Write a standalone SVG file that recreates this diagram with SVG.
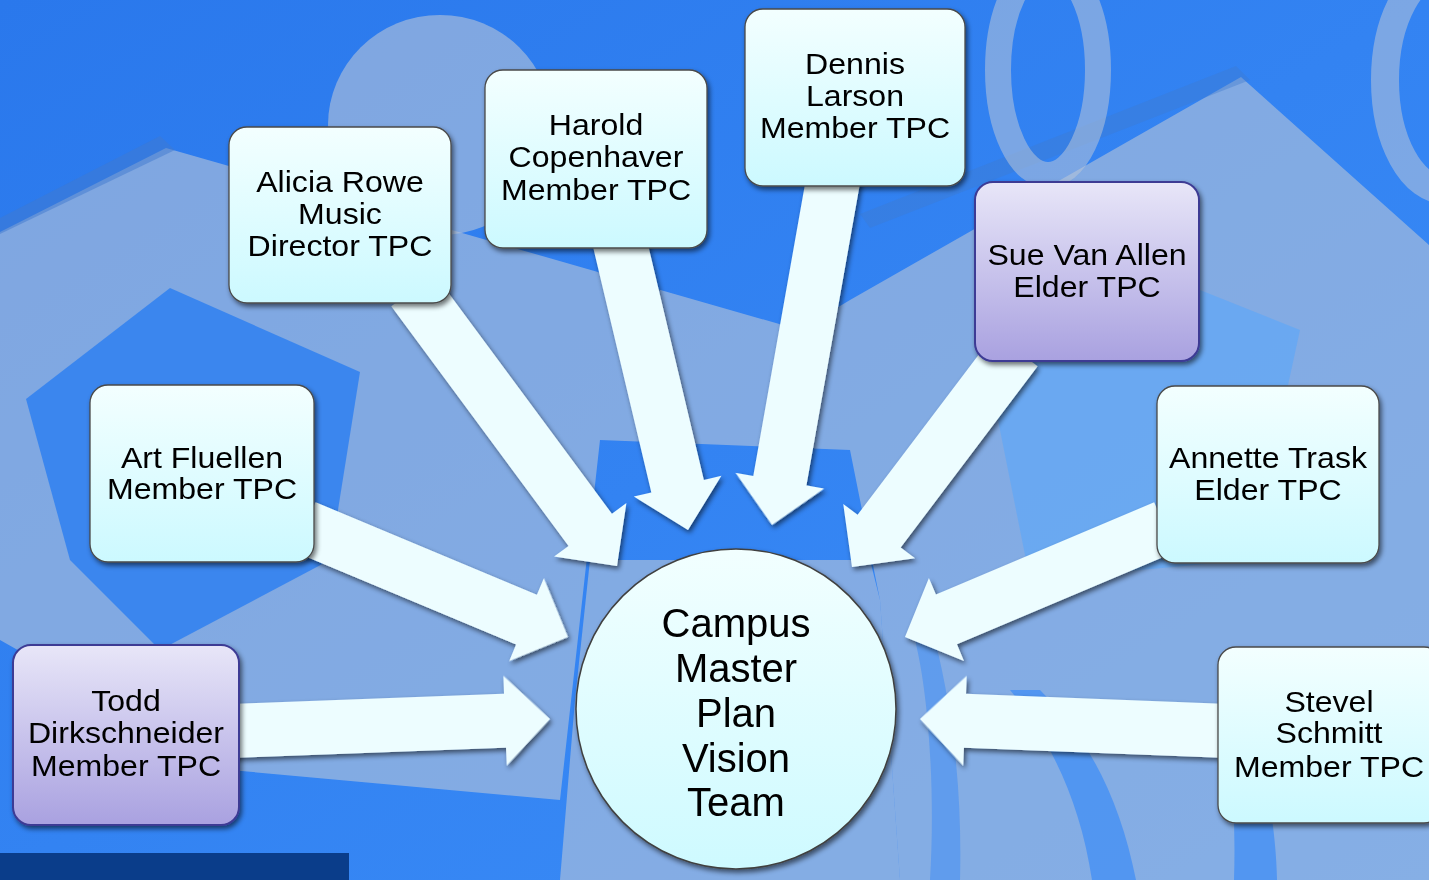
<svg xmlns="http://www.w3.org/2000/svg" width="1429" height="880" viewBox="0 0 1429 880">
<defs>
<linearGradient id="bg" x1="0" y1="0" x2="1" y2="1">
<stop offset="0" stop-color="#2A78EC"/>
<stop offset="1" stop-color="#3C8EF8"/>
</linearGradient>
<linearGradient id="cyan" x1="0" y1="0" x2="0" y2="1">
<stop offset="0" stop-color="#F3FFFF"/>
<stop offset="1" stop-color="#CCF9FF"/>
</linearGradient>
<linearGradient id="purple" x1="0" y1="0" x2="0" y2="1">
<stop offset="0" stop-color="#E8E6F8"/>
<stop offset="1" stop-color="#A9A1E0"/>
</linearGradient>
<linearGradient id="circ" x1="0" y1="0" x2="0" y2="1">
<stop offset="0" stop-color="#F2FFFF"/>
<stop offset="1" stop-color="#CEFAFF"/>
</linearGradient>
<filter id="sh" x="-10%" y="-10%" width="130%" height="130%">
<feGaussianBlur in="SourceAlpha" stdDeviation="2.5"/>
<feOffset dx="2" dy="3"/>
<feComponentTransfer><feFuncA type="linear" slope="0.55"/></feComponentTransfer>
<feMerge><feMergeNode/><feMergeNode in="SourceGraphic"/></feMerge>
</filter>
<style>
.lt{fill:#B8C4D8;fill-opacity:0.6}
.br{fill:#2F80F0;fill-opacity:0.85}
.ring{fill:none;stroke:#B8C4D8;stroke-opacity:0.55}
.arr{fill:#EDFDFF}
.bx{fill:url(#cyan);stroke:#4A4A4A;stroke-width:1.3}
.bp{fill:url(#purple);stroke:#3C3A94;stroke-width:2}
.t{font-family:"Liberation Sans",Arial,sans-serif;font-size:30px;fill:#000;text-anchor:middle}
.ct{font-family:"Liberation Sans",Arial,sans-serif;font-size:40px;fill:#000;text-anchor:middle}
</style>
</defs>

<g id="background">
<rect width="1429" height="880" fill="url(#bg)"/>
<polygon class="lt" points="0,232 166,148 800,330 850,300 850,450 600,440 560,800 230,770 0,640"/>
<polygon class="lt" points="590,560 870,560 880,600 900,880 560,880 575,700"/>
<polygon points="0,218 160,136 175,150 0,234" fill="#3F7AD0" fill-opacity="0.5"/>
<polygon class="br" points="26,399 170,288 360,372 330,560 160,650 70,560"/>
<polygon class="lt" points="850,300 1241,77 1429,245 1429,880 900,880 880,600 850,450"/>
<polygon points="860,214 1236,66 1250,80 870,228" fill="#3F7AD0" fill-opacity="0.4"/>
<polygon points="990,380 1200,290 1300,330 1250,560 1030,580" fill="#5AA6FA" fill-opacity="0.6"/>
<path d="M1092,880 C1080,800 1050,740 1010,690 L1040,690 C1090,740 1120,800 1136,880 Z" fill="#3C8CF6" fill-opacity="0.7"/>
<path d="M1234,880 C1236,820 1232,760 1222,720 L1250,720 C1266,770 1276,830 1277,880 Z" fill="#3C8CF6" fill-opacity="0.7"/>
<path d="M930,880 C935,800 930,700 915,640 L935,640 C955,720 962,800 960,880 Z" fill="#3C8CF6" fill-opacity="0.5"/>
<ellipse class="lt" cx="440" cy="125" rx="112" ry="110"/>
<ellipse class="ring" cx="1048" cy="70" rx="50" ry="105" stroke-width="26"/>
<ellipse class="ring" cx="1445" cy="80" rx="60" ry="110" stroke-width="28"/>
<rect x="0" y="853" width="349" height="27" fill="#0A3D8A"/>
</g>

<g id="connectors" filter="url(#sh)">
<path class="arr" transform="translate(617,566) rotate(53.5)" d="M-343,-27 L-45,-27 L-45,-45 L0,0 L-45,45 L-45,27 L-343,27 Z"/>
<path class="arr" transform="translate(688,530) rotate(76.65)" d="M-303,-27 L-45,-27 L-45,-45 L0,0 L-45,45 L-45,27 L-303,27 Z"/>
<path class="arr" transform="translate(772,525) rotate(100.05)" d="M-356,-27 L-45,-27 L-45,-45 L0,0 L-45,45 L-45,27 L-356,27 Z"/>
<path class="arr" transform="translate(852,567) rotate(127.1)" d="M-272,-27 L-45,-27 L-45,-45 L0,0 L-45,45 L-45,27 L-272,27 Z"/>
<path class="arr" transform="translate(905,637) rotate(157.07)" d="M-282,-27 L-45,-27 L-45,-45 L0,0 L-45,45 L-45,27 L-282,27 Z"/>
<path class="arr" transform="translate(568,637) rotate(22.7)" d="M-285,-27 L-45,-27 L-45,-45 L0,0 L-45,45 L-45,27 L-285,27 Z"/>
<path class="arr" transform="translate(550,719) rotate(-2.15)" d="M-320,-27 L-45,-27 L-45,-45 L0,0 L-45,45 L-45,27 L-320,27 Z"/>
<path class="arr" transform="translate(920,719) rotate(182.23)" d="M-308,-27 L-45,-27 L-45,-45 L0,0 L-45,45 L-45,27 L-308,27 Z"/>
</g>

<g id="center" filter="url(#sh)">
<circle cx="736" cy="709" r="160" fill="url(#circ)" stroke="#404040" stroke-width="1.5"/>
<text class="ct" x="736" y="637">Campus</text>
<text class="ct" x="736" y="682">Master</text>
<text class="ct" x="736" y="727">Plan</text>
<text class="ct" x="736" y="772">Vision</text>
<text class="ct" x="736" y="816">Team</text>
</g>

<g id="alicia" filter="url(#sh)">
<rect class="bx" x="229" y="127" width="222" height="176" rx="18"/>
<g transform="translate(340,0) scale(1.07,1)">
<text class="t" x="0" y="192">Alicia Rowe</text>
<text class="t" x="0" y="224">Music</text>
<text class="t" x="0" y="256">Director TPC</text>
</g>
</g>

<g id="harold" filter="url(#sh)">
<rect class="bx" x="485" y="70" width="222" height="178" rx="18"/>
<g transform="translate(596,0) scale(1.07,1)">
<text class="t" x="0" y="135">Harold</text>
<text class="t" x="0" y="167">Copenhaver</text>
<text class="t" x="0" y="200">Member TPC</text>
</g>
</g>

<g id="dennis" filter="url(#sh)">
<rect class="bx" x="745" y="9" width="220" height="177" rx="18"/>
<g transform="translate(855,0) scale(1.07,1)">
<text class="t" x="0" y="74">Dennis</text>
<text class="t" x="0" y="106">Larson</text>
<text class="t" x="0" y="138">Member TPC</text>
</g>
</g>

<g id="sue" filter="url(#sh)">
<rect class="bp" x="975" y="182" width="224" height="179" rx="18"/>
<g transform="translate(1087,0) scale(1.07,1)">
<text class="t" x="0" y="265">Sue Van Allen</text>
<text class="t" x="0" y="297">Elder TPC</text>
</g>
</g>

<g id="annette" filter="url(#sh)">
<rect class="bx" x="1157" y="386" width="222" height="177" rx="18"/>
<g transform="translate(1268,0) scale(1.07,1)">
<text class="t" x="0" y="468">Annette Trask</text>
<text class="t" x="0" y="500">Elder TPC</text>
</g>
</g>

<g id="art" filter="url(#sh)">
<rect class="bx" x="90" y="385" width="224" height="177" rx="18"/>
<g transform="translate(202,0) scale(1.07,1)">
<text class="t" x="0" y="468">Art Fluellen</text>
<text class="t" x="0" y="499">Member TPC</text>
</g>
</g>

<g id="todd" filter="url(#sh)">
<rect class="bp" x="13" y="645" width="226" height="180" rx="18"/>
<g transform="translate(126,0) scale(1.07,1)">
<text class="t" x="0" y="711">Todd</text>
<text class="t" x="0" y="743">Dirkschneider</text>
<text class="t" x="0" y="776">Member TPC</text>
</g>
</g>

<g id="stevel" filter="url(#sh)">
<rect class="bx" x="1218" y="647" width="224" height="176" rx="18"/>
<g transform="translate(1329,0) scale(1.07,1)">
<text class="t" x="0" y="712">Stevel</text>
<text class="t" x="0" y="743">Schmitt</text>
<text class="t" x="0" y="777">Member TPC</text>
</g>
</g>
</svg>
